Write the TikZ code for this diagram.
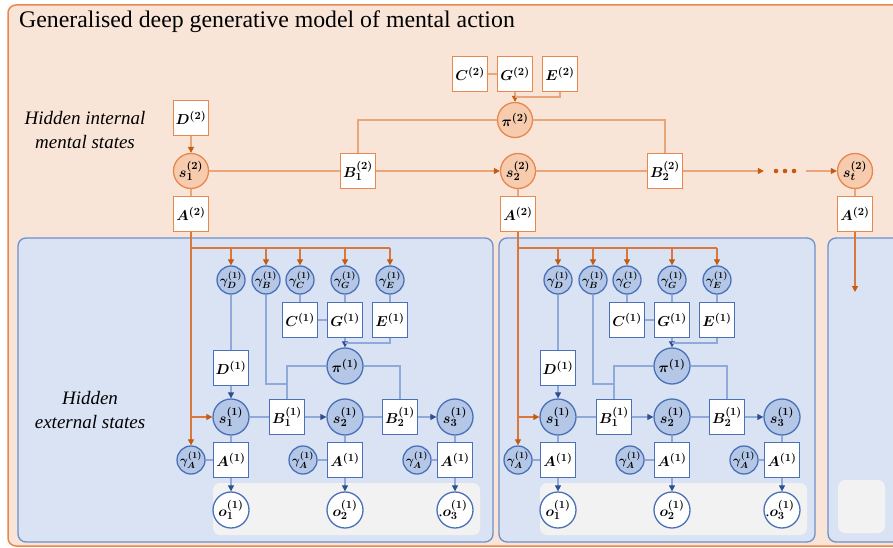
\documentclass[tikz,border=0pt]{standalone}
\usepackage{fontspec}
\setmainfont{Liberation Serif}
\usetikzlibrary{arrows.meta,calc}

\definecolor{peachbg}{HTML}{F9E5D8}
\definecolor{orborder}{HTML}{E8874E}
\definecolor{ornode}{HTML}{F6CBAE}
\definecolor{orline}{HTML}{EBA57A}
\definecolor{ordark}{HTML}{C55A11}
\definecolor{orwire}{HTML}{D9773F}
\definecolor{bluebg}{HTML}{DAE3F3}
\definecolor{blueborder}{HTML}{6F8FCB}
\definecolor{bluenode}{HTML}{B4C7E7}
\definecolor{bluedraw}{HTML}{4A70B8}
\definecolor{blueline}{HTML}{8EA9DA}
\definecolor{bluedark}{HTML}{2F4F8F}
\definecolor{greystrip}{HTML}{F2F2F2}

\tikzset{
  lbl/.style={font=\fontsize{15.5}{17}\selectfont\boldmath, inner sep=0pt},
  obox/.style={lbl, rectangle, draw=orborder, fill=white, line width=1.3pt, minimum size=35pt},
  ocirc/.style={lbl, circle, draw=orborder, fill=ornode, line width=1.3pt, minimum size=35pt},
  bbox/.style={lbl, rectangle, draw=bluedraw, fill=white, line width=1.3pt, minimum size=35pt},
  bcirc/.style={lbl, circle, draw=bluedraw, fill=bluenode, line width=1.3pt, minimum size=36pt},
  gcirc/.style={bcirc, minimum size=28pt, font=\fontsize{12.5}{13}\selectfont\boldmath},
  obs/.style={bcirc, fill=white},
  owire/.style={draw=orline, line width=1.2pt},
  owarr/.style={owire, -{Triangle[length=6pt,width=6pt,color=ordark]}},
  dwire/.style={draw=orwire, line width=1.2pt},
  dwarr/.style={dwire, -{Triangle[length=6pt,width=6pt,color=ordark]}},
  bwire/.style={draw=blueline, line width=1.2pt},
  bwarr/.style={bwire, -{Triangle[length=6pt,width=6pt,color=bluedark]}},
  panel/.style={draw=blueborder, fill=bluebg, line width=1.3pt, rounded corners=8pt},
  strip/.style={fill=greystrip, rounded corners=7pt},
  sidelabel/.style={font=\fontsize{19}{24}\selectfont\itshape, align=center, inner sep=0pt},
}

\begin{document}
\begin{tikzpicture}[x=1pt,y=-1pt]
\useasboundingbox (0,0) rectangle (893,548);
\clip (0,0) rectangle (893,548);

% outer frame and the three lower panels
\draw[draw=orborder, fill=peachbg, line width=1.5pt, rounded corners=8pt] (8,5) rectangle (930,546);
\draw[panel] (18,238) rectangle (493,542);
\draw[panel] (499,238) rectangle (815,542);
\draw[panel] (828,238) rectangle (940,542);
\fill[strip] (213,483) rectangle (480,535);
\fill[strip] (540,483) rectangle (807,535);
\fill[strip] (838,480) rectangle (885,533);

% title and side labels
\node[anchor=west, font=\fontsize{23.8}{26}\selectfont, inner sep=0pt] (title) at (19,22)
  {Generalised deep generative model of mental action};
\node[sidelabel] (lblint) at (85,130) {Hidden internal\\mental states};
\node[sidelabel] (lblext) at (90,410) {Hidden\\external states};

% upper level
\node[obox] (D2) at (191,118) {$D^{(2)}$};
\node[ocirc] (s12) at (191,171) {$s_1^{(2)}$};
\node[obox] (A2a) at (191,214) {$A^{(2)}$};
\node[obox] (B12) at (358,171) {$B_1^{(2)}$};
\node[obox] (C2) at (470,74) {$C^{(2)}$};
\node[obox] (G2) at (515,74) {$G^{(2)}$};
\node[obox] (E2) at (560,74) {$E^{(2)}$};
\node[ocirc] (pi2) at (515,120) {$\pi^{(2)}$};
\node[ocirc] (s22) at (518,171) {$s_2^{(2)}$};
\node[obox] (A2b) at (518,214) {$A^{(2)}$};
\node[obox] (B22) at (665,171) {$B_2^{(2)}$};
\node[inner sep=0pt, minimum width=42pt, minimum height=8pt] (dots) at (785,171) {};
\node[ocirc] (st2) at (855,171) {$s_t^{(2)}$};
\node[obox] (A2t) at (855,214) {$A^{(2)}$};
\coordinate (jE2) at (515,97);
\coordinate (down3) at (855,292);

\foreach \dx in {-9,0,9} \fill[ordark] ($(dots.center)+(\dx,0)$) circle (2.3pt);

\draw[owarr] (D2) -- (s12);
\draw[owire] (s12) -- (A2a);
\draw[owire] (s12) -- (B12);
\draw[owarr] (B12) -- (s22);
\draw[owire] (s22) -- (A2b);
\draw[owire] (s22) -- (B22);
\draw[owarr] (B22) -- (dots.west);
\draw[owarr] (dots.east) -- (st2);
\draw[owire] (st2) -- (A2t);
\draw[owire] (C2) -- (G2);
\draw[owarr] (G2) -- (pi2);
\draw[owire] (E2.south) |- (jE2);
\draw[owire] (pi2.west) -| (B12.north);
\draw[owire] (pi2.east) -| (B22.north);
\draw[dwarr] (A2t.south) -- (down3);

% lower level, one panel per upper state
\foreach \p/\dx in {a/0,b/327}{
  \begin{scope}[xshift=\dx pt]
    \node[gcirc] (gD\p) at (231,280) {$\gamma_D^{(1)}$};
    \node[gcirc] (gB\p) at (266,280) {$\gamma_B^{(1)}$};
    \node[gcirc] (gC\p) at (300,280) {$\gamma_C^{(1)}$};
    \node[gcirc] (gG\p) at (345,280) {$\gamma_G^{(1)}$};
    \node[gcirc] (gE\p) at (390,280) {$\gamma_E^{(1)}$};
    \node[bbox] (C\p) at (300,320) {$C^{(1)}$};
    \node[bbox] (G\p) at (345,320) {$G^{(1)}$};
    \node[bbox] (E\p) at (390,320) {$E^{(1)}$};
    \node[bcirc] (pi\p) at (345,366) {$\pi^{(1)}$};
    \node[bbox] (D\p) at (231,368) {$D^{(1)}$};
    \node[bcirc] (sa\p) at (231,417) {$s_1^{(1)}$};
    \node[bbox] (Ba\p) at (287,417) {$B_1^{(1)}$};
    \node[bcirc] (sb\p) at (345,417) {$s_2^{(1)}$};
    \node[bbox] (Bb\p) at (400,417) {$B_2^{(1)}$};
    \node[bcirc] (sc\p) at (455,417) {$s_3^{(1)}$};
    \node[bbox] (Aa\p) at (231,460) {$A^{(1)}$};
    \node[bbox] (Ab\p) at (345,460) {$A^{(1)}$};
    \node[bbox] (Ac\p) at (455,460) {$A^{(1)}$};
    \node[gcirc] (gAa\p) at (191,460) {$\gamma_A^{(1)}$};
    \node[gcirc] (gAb\p) at (303,460) {$\gamma_A^{(1)}$};
    \node[gcirc] (gAc\p) at (417,460) {$\gamma_A^{(1)}$};
    \node[obs] (oa\p) at (231,510) {$o_1^{(1)}$};
    \node[obs] (ob\p) at (345,510) {$o_2^{(1)}$};
    \node[obs] (oc\p) at (455,510) {\llap{.}$o_3^{(1)}$};
    \coordinate (bus\p) at (191,248);
    \coordinate (jB\p) at (287,384);
    \coordinate (jE\p) at (345,343);
  \end{scope}

  % precision links coming down from the upper level
  \draw[dwire] (A2\p.south) -- (bus\p) -- (bus\p -| gE\p);
  \foreach \g in {gD,gB,gC,gG,gE}
    \draw[dwarr] (bus\p -| \g\p) -- (\g\p.north);
  \draw[dwarr] (bus\p) |- (sa\p.west);
  \draw[dwarr] (bus\p) -- (gAa\p.north);

  % lower-level structure
  \draw[bwire] (gD\p) -- (D\p);
  \draw[bwarr] (D\p) -- (sa\p);
  \draw[bwire] (gB\p.south) |- (jB\p);
  \draw[bwire] (gC\p) -- (C\p);
  \draw[bwire] (gG\p) -- (G\p);
  \draw[bwire] (gE\p) -- (E\p);
  \draw[bwire] (C\p) -- (G\p);
  \draw[bwarr] (G\p) -- (pi\p);
  \draw[bwire] (E\p.south) |- (jE\p);
  \draw[bwire] (pi\p.west) -| (Ba\p.north);
  \draw[bwire] (pi\p.east) -| (Bb\p.north);
  \draw[bwire] (sa\p) -- (Ba\p);
  \draw[bwarr] (Ba\p) -- (sb\p);
  \draw[bwire] (sb\p) -- (Bb\p);
  \draw[bwarr] (Bb\p) -- (sc\p);
  \foreach \k in {a,b,c}{
    \draw[bwire] (s\k\p) -- (A\k\p);
    \draw[bwire] (gA\k\p) -- (A\k\p);
    \draw[bwarr] (A\k\p) -- (o\k\p);
  }
}
\end{tikzpicture}
\end{document}
